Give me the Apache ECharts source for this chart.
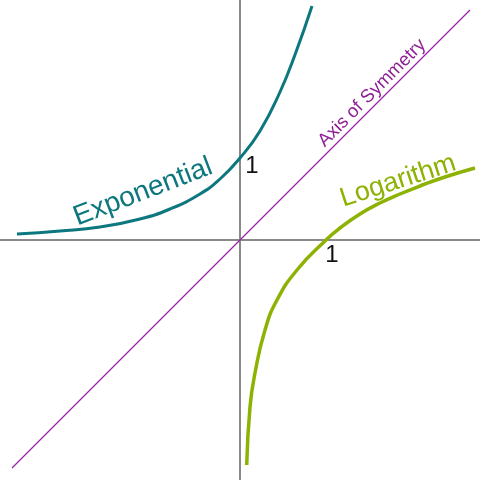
<!DOCTYPE html>
<html>
<head>
<meta charset="utf-8">
<script src="https://cdn.jsdelivr.net/npm/echarts@6/dist/echarts.min.js"></script>
<style>html,body{margin:0;padding:0;background:#fff}#c{width:480px;height:480px}</style>
</head>
<body>
<div id="c"></div>
<script>
// Exponential curve points (x, y)
const expX = [-2.7875, -2.25, -1.75, -1.25, -0.875, -0.5, -0.25, 0, 0.25, 0.5, 0.7, 0.9];
const expY = [0.075, 0.1125, 0.1625, 0.2625, 0.3875, 0.575, 0.7625, 1.025, 1.3625, 1.85, 2.35, 2.925];
// Logarithm curve points (x, y)
const logX = [0.084, 0.125, 0.1875, 0.3125, 0.4625, 0.7125, 1.075, 1.25, 1.5, 1.75, 2.0, 2.25, 2.5625, 2.9375];
const logY = [-2.8125, -2.0875, -1.6625, -1.125, -0.75, -0.375, 0, 0.15, 0.325, 0.4625, 0.575, 0.675, 0.7875, 0.9];
// Axis of symmetry y = x
const symX = [-2.85, 2.875];
const symY = [-2.85, 2.875];
// Text labels
const labels = { exp: 'Exponential', log: 'Logarithm', sym: 'Axis of Symmetry', one: '1' };

const zip = (a, b) => a.map((v, i) => [v, b[i]]);
const chart = echarts.init(document.getElementById('c'), null, { renderer: 'canvas' });
const font = 'Liberation Sans, Arial, sans-serif';
chart.setOption({
  animation: false,
  backgroundColor: '#fff',
  grid: { left: 0, right: 0, top: 0, bottom: 0 },
  xAxis: {
    type: 'value', min: -3, max: 3,
    axisLine: { onZero: true, lineStyle: { color: '#8a8a8a', width: 2 } },
    axisTick: { show: false }, axisLabel: { show: false }, splitLine: { show: false }
  },
  yAxis: {
    type: 'value', min: -3, max: 3,
    axisLine: { onZero: true, lineStyle: { color: '#8a8a8a', width: 2 } },
    axisTick: { show: false }, axisLabel: { show: false }, splitLine: { show: false }
  },
  series: [
    { type: 'line', data: zip(symX, symY), showSymbol: false, color: '#9b23a8',
      lineStyle: { color: '#9b23a8', width: 1.3 }, z: 1 },
    { type: 'line', data: zip(expX, expY), smooth: true, showSymbol: false, color: '#0c777e',
      lineStyle: { color: '#0c777e', width: 3 }, z: 3 },
    { type: 'line', data: zip(logX, logY), smooth: true, showSymbol: false, color: '#8db204',
      lineStyle: { color: '#8db204', width: 3.5 }, z: 3 }
  ],
  graphic: [
    { type: 'text', x: 143, y: 192, rotation: 21 * Math.PI / 180,
      style: { text: labels.exp, font: '28px ' + font, fill: '#0c777e', align: 'center', verticalAlign: 'middle' } },
    { type: 'text', x: 398, y: 181, rotation: 18 * Math.PI / 180,
      style: { text: labels.log, font: '27px ' + font, fill: '#8db204', align: 'center', verticalAlign: 'middle' } },
    { type: 'text', x: 372, y: 93, rotation: 45 * Math.PI / 180,
      style: { text: labels.sym, font: '18.5px ' + font, fill: '#8e1f96', align: 'center', verticalAlign: 'middle' } },
    { type: 'text', x: 252, y: 166,
      style: { text: labels.one, font: '24px ' + font, fill: '#111', align: 'center', verticalAlign: 'middle' } },
    { type: 'text', x: 332, y: 255,
      style: { text: labels.one, font: '24px ' + font, fill: '#111', align: 'center', verticalAlign: 'middle' } }
  ]
});
</script>
</body>
</html>
